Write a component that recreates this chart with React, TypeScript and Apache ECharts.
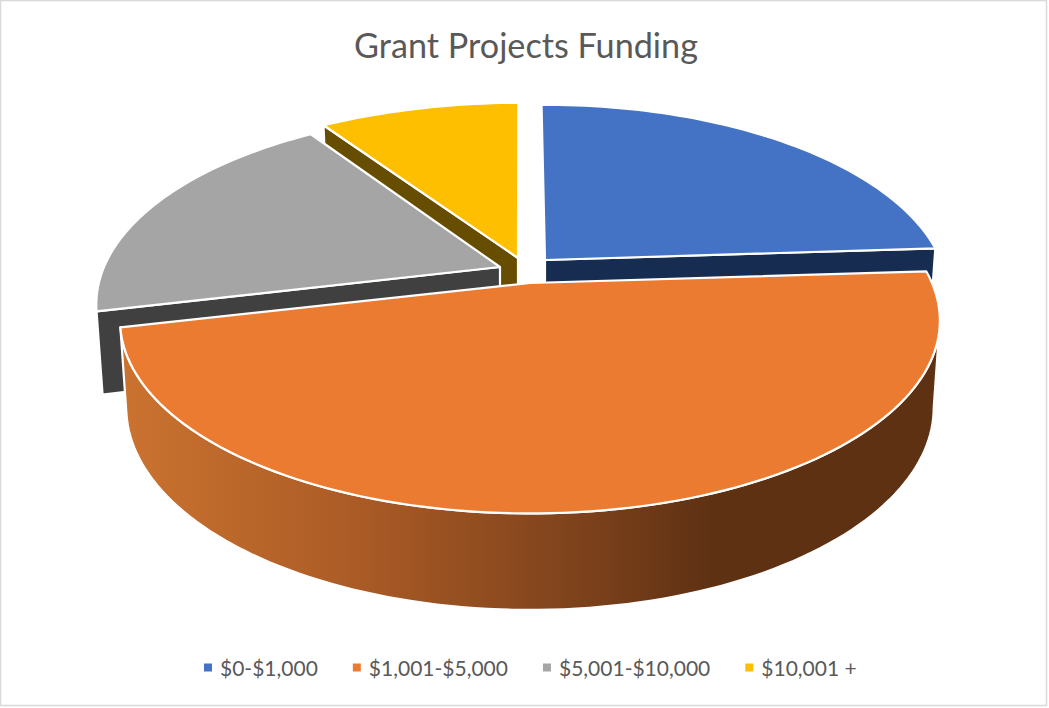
import React, { useEffect, useRef } from "react";
import * as echarts from "echarts";

const titleText = "Grant Projects Funding";
const categories = ["$0-$1,000", "$1,001-$5,000", "$5,001-$10,000", "$10,001 +"];
const shares = [24.15, 47.35, 19.3, 9.2];
const topColors = ["#4472C4", "#EB7B31", "#A5A5A5", "#FEBF00"];
const wallColors = ["#172C51", "#5F3113", "#404040", "#664D00"];
// slice apex in pixels (exploded pie), perspective width of each slice, and painter's order
const apexX = [545, 530, 500, 518];
const apexY = [260, 283, 267, 258];
const widthScale = [0.985, 1, 0.985, 1.03];
const skew = [0, 0, 0, -0.025];
const depthBySlice = [84, 85, 81, 84];
const paintOrder = [2, 4, 3, 1];

const START_DEG = -0.6;
const A = 185.5, B = 402, P = 0.195;
const SX = 0.985, SY = 1.05;
const SILHOUETTE_DEG = (Math.acos(-P) * 180) / Math.PI;

function project(i: number, u: number, v: number, low: boolean): number[] {
  const w = 1 / (1 - P * v);
  const dx = B * widthScale[i] * u * w;
  const dy = A * v * w;
  const sk = skew[i] * dy;
  return low
    ? [apexX[i] + dx * SX + sk, apexY[i] + dy * SY + depthBySlice[i]]
    : [apexX[i] + dx + sk, apexY[i] + dy];
}

function arc(i: number, a0: number, a1: number, low: boolean): number[][] {
  const pts: number[][] = [];
  const n = Math.max(2, Math.ceil((a1 - a0) / 1.5));
  for (let k = 0; k <= n; k++) {
    const t = ((a0 + ((a1 - a0) * k) / n) * Math.PI) / 180;
    pts.push(project(i, Math.sin(t), -Math.cos(t), low));
  }
  return pts;
}

function sliceAngles(i: number): number[] {
  const total = shares.reduce((s, x) => s + x, 0);
  const before = shares.slice(0, i).reduce((s, x) => s + x, 0);
  return [START_DEG + (before / total) * 360, START_DEG + ((before + shares[i]) / total) * 360];
}

const orangeWallFill: any = {
  type: "linear", x: 0, y: 0, x2: 1, y2: 0,
  colorStops: [
    { offset: 0, color: "#CB7330" },
    { offset: 0.3, color: "#A95A25" },
    { offset: 0.55, color: "#7F431C" },
    { offset: 0.72, color: "#5F3113" },
    { offset: 1, color: "#5F3113" },
  ],
};

function renderSlice(i: number) {
  const [a0, a1] = sliceAngles(i);
  const topArc = arc(i, a0, a1, false);
  const lowArc = arc(i, a0, a1, true);
  const apexTop = project(i, 0, 0, false);
  const apexLow = project(i, 0, 0, true);
  const edge = { stroke: "#FFFFFF", lineWidth: 2.2, lineJoin: "round" };
  const poly = (points: number[][], fill: any) => ({
    type: "polygon",
    shape: { points },
    style: { fill, ...edge },
  });
  const children: any[] = [];
  // only the radial walls that face the viewer
  if (Math.sin((a0 * Math.PI) / 180) < 0)
    children.push(poly([apexTop, topArc[0], lowArc[0], apexLow], wallColors[i]));
  if (Math.sin((a1 * Math.PI) / 180) > 0)
    children.push(poly([apexTop, topArc[topArc.length - 1], lowArc[lowArc.length - 1], apexLow], wallColors[i]));
  if (i === 1) {
    const from = Math.max(a0, SILHOUETTE_DEG);
    children.push(
      poly([...arc(i, from, a1, false), ...arc(i, from, a1, true).reverse()], orangeWallFill)
    );
  }
  children.push(poly([apexTop, ...topArc], topColors[i]));
  return { type: "group", children };
}

export default function App() {
  const ref = useRef<HTMLDivElement>(null);
  useEffect(() => {
    const chart = echarts.init(ref.current!, null, { renderer: "svg" });
    chart.setOption({
      animation: false,
      backgroundColor: "#FFFFFF",
      title: {
        text: titleText,
        left: 521,
        top: 22,
        textAlign: "center",
        textStyle: { fontFamily: "Lato", fontSize: 34.2, fontWeight: "normal", color: "#595959" },
      },
      legend: {
        data: categories,
        left: 199,
        top: 652,
        itemWidth: 8,
        itemHeight: 8,
        itemGap: 35,
        icon: "rect",
        textStyle: { fontFamily: "Lato", fontSize: 21, color: "#595959", padding: [0, 0, 4, 3] },
      },
      graphic: [
        {
          type: "rect",
          silent: true,
          shape: { x: 0.5, y: 0.5, width: 1046, height: 705 },
          style: { fill: "none", stroke: "#D9D9D9", lineWidth: 1.5 },
        },
      ],
      series: categories.map((name, i) => ({
        type: "custom",
        name,
        coordinateSystem: "none",
        z: paintOrder[i],
        silent: true,
        itemStyle: { color: topColors[i] },
        data: [[shares[i]]],
        renderItem: () => renderSlice(i),
      })),
    });
    return () => chart.dispose();
  }, []);
  return (
    <div
      ref={ref}
      style={{ position: "fixed", left: 0, top: 0, width: 1049, height: 708 }}
    />
  );
}
